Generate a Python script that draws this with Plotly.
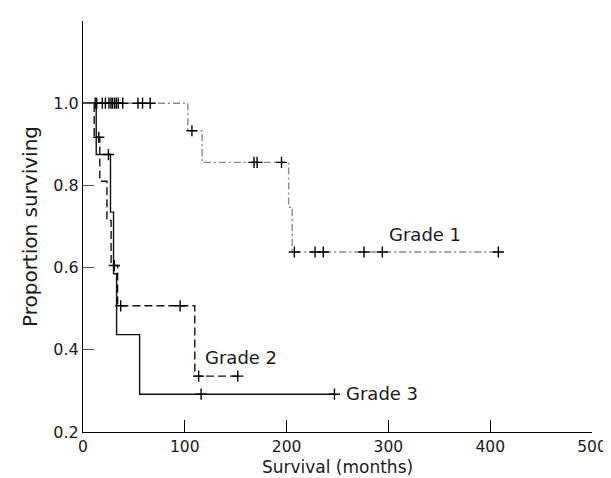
import plotly.graph_objects as go

# Grade 1 (grey dash-dot)
g1_t = [0, 103, 117, 202, 205.5, 408]
g1_s = [1.0, 0.933, 0.856, 0.747, 0.638, 0.638]
g1_ct = [12, 13.5, 19, 22, 25.5, 27.5, 29, 31, 32.7, 34.6, 39, 54, 58.5, 66,
         107, 168, 171, 195, 207.6, 228, 236, 276, 294, 408]
g1_cs = [1.0] * 14 + [0.933, 0.856, 0.856, 0.856, 0.638, 0.638, 0.638, 0.638, 0.638, 0.638]

# Grade 2 (black dashed)
g2_t = [0, 11, 16.5, 23.5, 27.6, 34, 109.8, 152]
g2_s = [1.0, 0.917, 0.81, 0.715, 0.605, 0.507, 0.336, 0.336]
g2_ct = [15.5, 30.8, 37, 95.4, 113.6, 152]
g2_cs = [0.917, 0.605, 0.507, 0.507, 0.336, 0.336]

# Grade 3 (black solid)
g3_t = [0, 13, 27, 30, 33, 55.6, 247]
g3_s = [1.0, 0.875, 0.735, 0.585, 0.437, 0.292, 0.292]
g3_ct = [25, 116, 247]
g3_cs = [0.875, 0.292, 0.292]

x_ticks = [0, 100, 200, 300, 400, 500]
y_ticks = [0.2, 0.4, 0.6, 0.8, 1.0, 1.2]
y_text = ["0.2", "0.4", "0.6", "0.8", "1.0", ""]

FONT = "DejaVu Sans"
TXT = "#1a1a1a"

fig = go.Figure()

def add_curve(t, s, ct, cs, color, dash):
    fig.add_trace(go.Scatter(x=t, y=s, mode="lines", line=dict(shape="hv", color=color, width=1.4, dash=dash),
                             hoverinfo="skip", showlegend=False))
    fig.add_trace(go.Scatter(x=ct, y=cs, mode="markers",
                             marker=dict(symbol="cross-thin", size=8, line=dict(color="black", width=1.4)),
                             hoverinfo="skip", showlegend=False))

add_curve(g1_t, g1_s, g1_ct, g1_cs, "#8a8a8a", "7px,3px,2px,3px")
add_curve(g2_t, g2_s, g2_ct, g2_cs, "#111111", "8px,4px")
add_curve(g3_t, g3_s, g3_ct, g3_cs, "#111111", "solid")

for label, xv, yv in [("Grade 1", 299, 0.681), ("Grade 2", 118, 0.382), ("Grade 3", 256, 0.293)]:
    fig.add_annotation(x=xv, y=yv, text=label, showarrow=False, xanchor="left", yanchor="middle",
                       font=dict(family=FONT, size=18, color=TXT))

fig.update_layout(
    width=611, height=478,
    margin=dict(l=74.5, r=13.5, t=13, b=53),
    plot_bgcolor="white", paper_bgcolor="white",
    font=dict(family=FONT, size=16, color=TXT),
    xaxis=dict(range=[0, 500], tickvals=x_ticks, ticks="inside", ticklen=12, tickcolor="black",
               showline=True, linecolor="black", linewidth=1.2, showgrid=False, zeroline=False,
               tickfont=dict(size=15.5), ticklabeloverflow="allow",
               title=dict(text="Survival (months)", font=dict(size=17), standoff=6)),
    yaxis=dict(range=[0.2, 1.2], tickvals=y_ticks, ticktext=y_text, ticks="inside", ticklen=11,
               tickcolor="#555", showline=True, linecolor="black", linewidth=1.2, showgrid=False,
               zeroline=False, tickfont=dict(size=16),
               title=dict(text="Proportion surviving", font=dict(size=20), standoff=10)),
)

fig.write_html("out.html")
